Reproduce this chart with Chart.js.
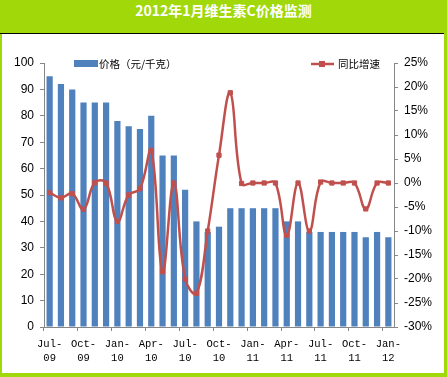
<!DOCTYPE html>
<html>
<head>
<meta charset="utf-8">
<script src="https://cdn.jsdelivr.net/npm/chart.js@4/dist/chart.umd.min.js"></script>
<style>
  html, body { margin: 0; padding: 0; }
  body { width: 447px; height: 377px; background: #a0d80a; position: relative; overflow: hidden; }
  #title { position: absolute; left: 0; top: 0; width: 447px; height: 33px; line-height: 33px;
    text-align: center; color: #fff; font: bold 14px "Noto Sans CJK SC", sans-serif; }
  #rule { position: absolute; left: 0; top: 33px; width: 444px; height: 1px; background: #000; }
  #panel { position: absolute; left: 2px; top: 34px; width: 442px; height: 339px; background: #fff; }
</style>
</head>
<body>
<div id="title">2012年1月维生素C价格监测</div>
<div id="rule"></div>
<div id="panel"><canvas id="vcChart" width="442" height="339"></canvas></div>
<script>
// months Jul-09 .. Jan-12
const months = [
  ["Jul-","09"], ["Aug-","09"], ["Sep-","09"], ["Oct-","09"], ["Nov-","09"], ["Dec-","09"],
  ["Jan-","10"], ["Feb-","10"], ["Mar-","10"], ["Apr-","10"], ["May-","10"], ["Jun-","10"],
  ["Jul-","10"], ["Aug-","10"], ["Sep-","10"], ["Oct-","10"], ["Nov-","10"], ["Dec-","10"],
  ["Jan-","11"], ["Feb-","11"], ["Mar-","11"], ["Apr-","11"], ["May-","11"], ["Jun-","11"],
  ["Jul-","11"], ["Aug-","11"], ["Sep-","11"], ["Oct-","11"], ["Nov-","11"], ["Dec-","11"],
  ["Jan-","12"]
];
// 价格（元/千克）
const price = [95, 92, 90, 85, 85, 85, 78, 76, 75, 80, 65, 65, 52, 40, 36, 38,
  45, 45, 45, 45, 45, 40, 40, 36, 36, 36, 36, 36, 34, 36, 34];
// 同比增速 (%)
const growth = [-2.0, -3.1, -2.2, -5.5, 0.1, 0, -8, -2.5, -1.2, 6.8, -18.5, 0, -20, -23, -10, 5.8,
  18.8, -0.1, 0, 0, 0, -10.9, 0, -10, 0.2, 0, 0, 0, -5.4, 0, 0];
const leftTicks = { min: 0, max: 100, step: 10 };
const rightTicks = { min: -30, max: 25, step: 5 };

const axisGray = "#868686";
const tickFont = { family: "Liberation Sans", size: 12 };

const legendPlugin = {
  id: "innerLegend",
  afterDraw(chart) {
    const c = chart.ctx;
    c.save();
    c.font = '10.5px "Noto Sans CJK SC"';
    c.textBaseline = "middle";
    c.fillStyle = "#4f81bd";
    c.fillRect(72, 26, 24, 7);
    c.fillStyle = "#000";
    c.fillText("价格（元/千克）", 97, 30);
    c.strokeStyle = "#c0504d";
    c.lineWidth = 2.5;
    c.beginPath();
    c.moveTo(309, 30);
    c.lineTo(332, 30);
    c.stroke();
    c.fillStyle = "#c0504d";
    c.fillRect(317, 27, 6, 6);
    c.fillStyle = "#000";
    c.fillText("同比增速", 336, 30);
    c.restore();
  }
};

new Chart(document.getElementById("vcChart").getContext("2d"), {
  data: {
    labels: months,
    datasets: [
      {
        type: "line",
        label: "同比增速",
        data: growth,
        yAxisID: "y1",
        borderColor: "#c0504d",
        backgroundColor: "#c0504d",
        borderWidth: 2.5,
        tension: 0.4,
        pointStyle: "rect",
        pointRadius: 3,
        pointBorderWidth: 1,
        order: 0
      },
      {
        type: "bar",
        label: "价格（元/千克）",
        data: price,
        yAxisID: "y",
        backgroundColor: "#4f81bd",
        barPercentage: 0.55,
        categoryPercentage: 1,
        order: 1
      }
    ]
  },
  options: {
    responsive: false,
    animation: false,
    layout: { padding: { top: 29, left: 0, right: 0, bottom: 0 } },
    plugins: {
      legend: { display: false },
      tooltip: { enabled: false }
    },
    scales: {
      x: {
        afterFit: s => { s.height = 46; },
        grid: {
          offset: true,
          drawOnChartArea: false,
          tickLength: 4,
          tickColor: ctx => (ctx.index % 3 === 0 ? axisGray : "rgba(0,0,0,0)")
        },
        border: { color: axisGray },
        ticks: {
          autoSkip: false,
          maxRotation: 0,
          padding: 6,
          color: "#000",
          font: { family: "Liberation Mono", size: 10.5, lineHeight: 1.35 },
          callback: (v, i) => (i % 3 === 0 ? months[i] : "")
        }
      },
      y: {
        position: "left",
        min: leftTicks.min,
        max: leftTicks.max,
        afterFit: s => { s.width = 42; },
        grid: { drawOnChartArea: false, tickLength: 4, tickColor: axisGray },
        border: { color: axisGray },
        ticks: { stepSize: leftTicks.step, padding: 6, color: "#000", font: tickFont }
      },
      y1: {
        position: "right",
        min: rightTicks.min,
        max: rightTicks.max,
        afterFit: s => { s.width = 50; },
        grid: { drawOnChartArea: false, tickLength: 4, tickColor: axisGray },
        border: { color: axisGray },
        ticks: {
          stepSize: rightTicks.step,
          padding: 6,
          color: "#000",
          font: tickFont,
          callback: v => v + "%"
        }
      }
    }
  },
  plugins: [legendPlugin]
});
</script>
</body>
</html>
